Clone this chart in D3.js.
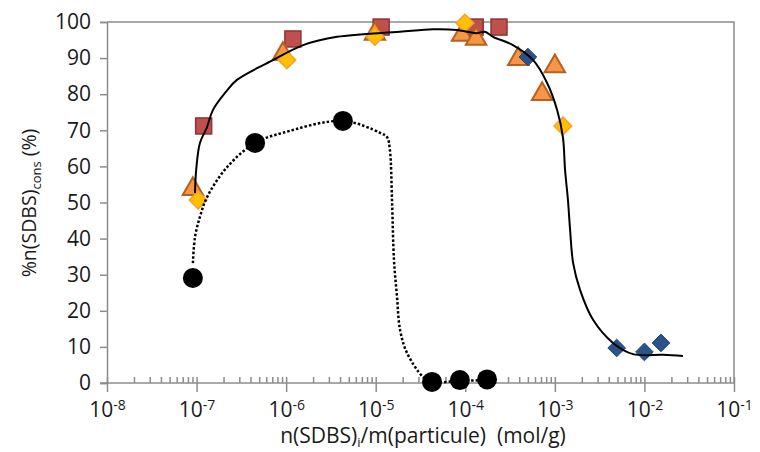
<!DOCTYPE html>
<html>
<head>
<meta charset="utf-8">
<script src="https://cdn.jsdelivr.net/npm/d3@7"></script>
<style>
  body { margin: 0; background: #fff; }
  svg text { font-family: "Open Sans", "Noto Sans", sans-serif; fill: #1a1a1a; }
</style>
</head>
<body>
<svg width="760" height="452"></svg>
<script>
// data (x in mol/g, y in %)
const sqX = [1.2e-7, 1.19e-6, 1.15e-5, 1.29e-4, 2.38e-4];
const sqY = [71.2, 95.3, 98.6, 98.6, 98.6];

const triX = [9.1e-8, 9.2e-7, 9.8e-6, 9.2e-5, 1.32e-4, 3.9e-4, 7.2e-4, 1.0e-3];
const triY = [54, 91.4, 97, 96.7, 95.6, 90, 80.3, 88];

const ydX = [1.04e-7, 1.02e-6, 9.8e-6, 9.9e-5, 1.23e-3];
const ydY = [50.7, 89.5, 96, 99.7, 71.2];

const bdX = [5.0e-4, 4.9e-3, 1.0e-2, 1.53e-2];
const bdY = [90.3, 9.7, 8.6, 11.1];

const circX = [9.1e-8, 4.5e-7, 4.3e-6, 4.25e-5, 8.7e-5, 1.75e-4];
const circY = [29.1, 66.5, 72.6, 0.3, 0.8, 1.0];

// solid trend line
const fitX = [9.6e-8, 9.9e-8, 1.09e-7, 1.31e-7, 1.52e-7, 2.1e-7, 2.8e-7, 6.6e-7, 1.55e-6, 3.7e-6, 1.86e-5, 4.36e-5,
  8.1e-5, 1.05e-4, 1.35e-4, 1.65e-4, 2.04e-4, 3.4e-4, 5.7e-4, 8.2e-4, 1.06e-3, 1.23e-3, 1.3e-3, 1.4e-3,
  1.48e-3, 1.6e-3, 1.91e-3, 2.67e-3, 4.46e-3, 7.46e-3, 1.62e-2, 2.69e-2];
const fitY = [52.6, 59, 66.5, 70.9, 75.6, 80.5, 83.9, 89, 93.6, 95.9, 97.3, 98,
  97.8, 97.3, 96.9, 97.3, 95.9, 93.6, 89.5, 83.1, 75.6, 68.1, 59, 50.7,
  42.4, 33.2, 25.8, 17.5, 11.1, 8.0, 7.8, 7.5];

// dotted trend line
const dotX = [9.1e-8, 9.6e-8, 1.09e-7, 1.31e-7, 2.19e-7, 4.49e-7, 9.2e-7, 4.3e-6, 1.12e-5, 1.34e-5, 1.44e-5,
  1.52e-5, 1.6e-5, 1.73e-5, 1.87e-5, 2.24e-5, 3.37e-5, 4.26e-5, 8.7e-5, 1.75e-4];
const dotY = [33.2, 40.4, 46, 51.5, 59.8, 66.5, 69.3, 72.6, 69.3, 68.1, 64.5,
  50.7, 34, 23.8, 14.7, 8.3, 1.7, 0.3, 0.6, 0.8];

const xMajor = [1e-8, 1e-7, 1e-6, 1e-5, 1e-4, 1e-3, 1e-2, 1e-1];
const yTicks = [0, 10, 20, 30, 40, 50, 60, 70, 80, 90, 100];

const svg = d3.select("svg"),
  pLeft = 107, pRight = 734, pTop = 22, pBottom = 383,
  axisColor = "#8c8c8c";

const x = d3.scaleLog().domain([1e-8, 1e-1]).range([pLeft, pRight]);
const y = d3.scaleLinear().domain([0, 100]).range([pBottom, pTop]);

// plot frame (top and right)
svg.append("path")
  .attr("d", "M" + pLeft + "," + pTop + "H" + pRight + "V" + pBottom)
  .attr("fill", "none")
  .attr("stroke", axisColor)
  .attr("stroke-width", 1.5);

// y axis
const yAxis = svg.append("g")
  .attr("transform", "translate(" + pLeft + ",0)")
  .call(d3.axisLeft(y).tickValues(yTicks).tickSize(7).tickPadding(9));
yAxis.select(".domain").attr("stroke", axisColor).attr("stroke-width", 1.5);
yAxis.selectAll(".tick line").attr("stroke", axisColor).attr("stroke-width", 1.5);
yAxis.selectAll(".tick text").style("font-size", "21px").attr("fill", "#1a1a1a");

// x axis: minor ticks pointing up
let minors = [];
for (let e = -8; e < -1; e++) {
  for (let m = 1; m <= 9; m++) minors.push(m * Math.pow(10, e));
}
minors.push(1e-1);
const xMinor = svg.append("g")
  .attr("transform", "translate(0," + pBottom + ")")
  .call(d3.axisBottom(x).tickValues(minors).tickSize(-6).tickFormat(""));
xMinor.select(".domain").remove();
xMinor.selectAll(".tick line").attr("stroke", axisColor).attr("stroke-width", 1.5);

// x axis: major ticks with labels
const xAxis = svg.append("g")
  .attr("transform", "translate(0," + pBottom + ")")
  .call(d3.axisBottom(x).tickValues(xMajor).tickSize(9).tickPadding(8).tickFormat(""));
xAxis.select(".domain").attr("stroke", axisColor).attr("stroke-width", 1.5)
  .attr("d", "M" + (pLeft - 7) + ",0H" + pRight);
xAxis.selectAll(".tick line").attr("stroke", axisColor).attr("stroke-width", 1.5);
xAxis.selectAll(".tick text").each(function(d) {
  const t = d3.select(this).style("font-size", "21px").attr("fill", "#1a1a1a")
    .attr("y", 34).attr("dy", 0);
  t.append("tspan").text("10");
  t.append("tspan").attr("dy", -7).style("font-size", "14px").text(Math.round(Math.log10(d)));
});

// markers
const g = svg.append("g");

g.selectAll("rect.sq")
  .data(d3.zip(sqX, sqY))
  .enter().append("rect")
  .attr("class", "sq")
  .attr("x", d => x(d[0]) - 8)
  .attr("y", d => y(d[1]) - 8)
  .attr("width", 16)
  .attr("height", 16)
  .attr("fill", "#c0504d")
  .attr("stroke", "#8c3533")
  .attr("stroke-width", 1.5);

const tri = d3.symbol().type(d3.symbolTriangle).size(180);
g.selectAll("path.tri")
  .data(d3.zip(triX, triY))
  .enter().append("path")
  .attr("class", "tri")
  .attr("d", tri)
  .attr("transform", d => "translate(" + x(d[0]) + "," + (y(d[1]) + 1) + ")")
  .attr("fill", "#f79646")
  .attr("stroke", "#b5611f")
  .attr("stroke-width", 2);

const dia = d3.symbol().type(d3.symbolDiamond2).size(200);
g.selectAll("path.yd")
  .data(d3.zip(ydX, ydY))
  .enter().append("path")
  .attr("class", "yd")
  .attr("d", dia)
  .attr("transform", d => "translate(" + x(d[0]) + "," + y(d[1]) + ")")
  .attr("fill", "#ffc000")
  .attr("stroke", "#f5a030")
  .attr("stroke-width", 1.5);

g.selectAll("path.bd")
  .data(d3.zip(bdX, bdY))
  .enter().append("path")
  .attr("class", "bd")
  .attr("d", dia)
  .attr("transform", d => "translate(" + x(d[0]) + "," + y(d[1]) + ")")
  .attr("fill", "#2b5389")
  .attr("stroke", "#23477a")
  .attr("stroke-width", 1);

// trend lines
const line = d3.line()
  .x(d => x(d[0]))
  .y(d => y(d[1]))
  .curve(d3.curveCatmullRom.alpha(0.5));

svg.append("path")
  .datum(d3.zip(dotX, dotY))
  .attr("d", line)
  .attr("fill", "none")
  .attr("stroke", "#000")
  .attr("stroke-width", 2.5)
  .attr("stroke-dasharray", "2.5,2");

g.selectAll("circle.c")
  .data(d3.zip(circX, circY))
  .enter().append("circle")
  .attr("class", "c")
  .attr("cx", d => x(d[0]))
  .attr("cy", d => y(d[1]))
  .attr("r", 10)
  .attr("fill", "#000");

svg.append("path")
  .datum(d3.zip(fitX, fitY))
  .attr("d", line)
  .attr("fill", "none")
  .attr("stroke", "#000")
  .attr("stroke-width", 2);

// axis titles
const xt = svg.append("text")
  .attr("x", 423)
  .attr("y", 443)
  .attr("text-anchor", "middle")
  .style("font-size", "21px");
xt.append("tspan").text("n(SDBS)");
xt.append("tspan").attr("dy", 4).style("font-size", "13px").text("i");
xt.append("tspan").attr("dy", -4).text("/m(particule)\u00a0\u00a0(mol/g)");

const yt = svg.append("text")
  .attr("transform", "translate(36,203) rotate(-90)")
  .attr("text-anchor", "middle")
  .style("font-size", "19.5px");
yt.append("tspan").text("%n(SDBS)");
yt.append("tspan").attr("dy", 5).style("font-size", "13px").text("cons");
yt.append("tspan").attr("dy", -5).text("\u00a0(%)");
</script>
</body>
</html>
